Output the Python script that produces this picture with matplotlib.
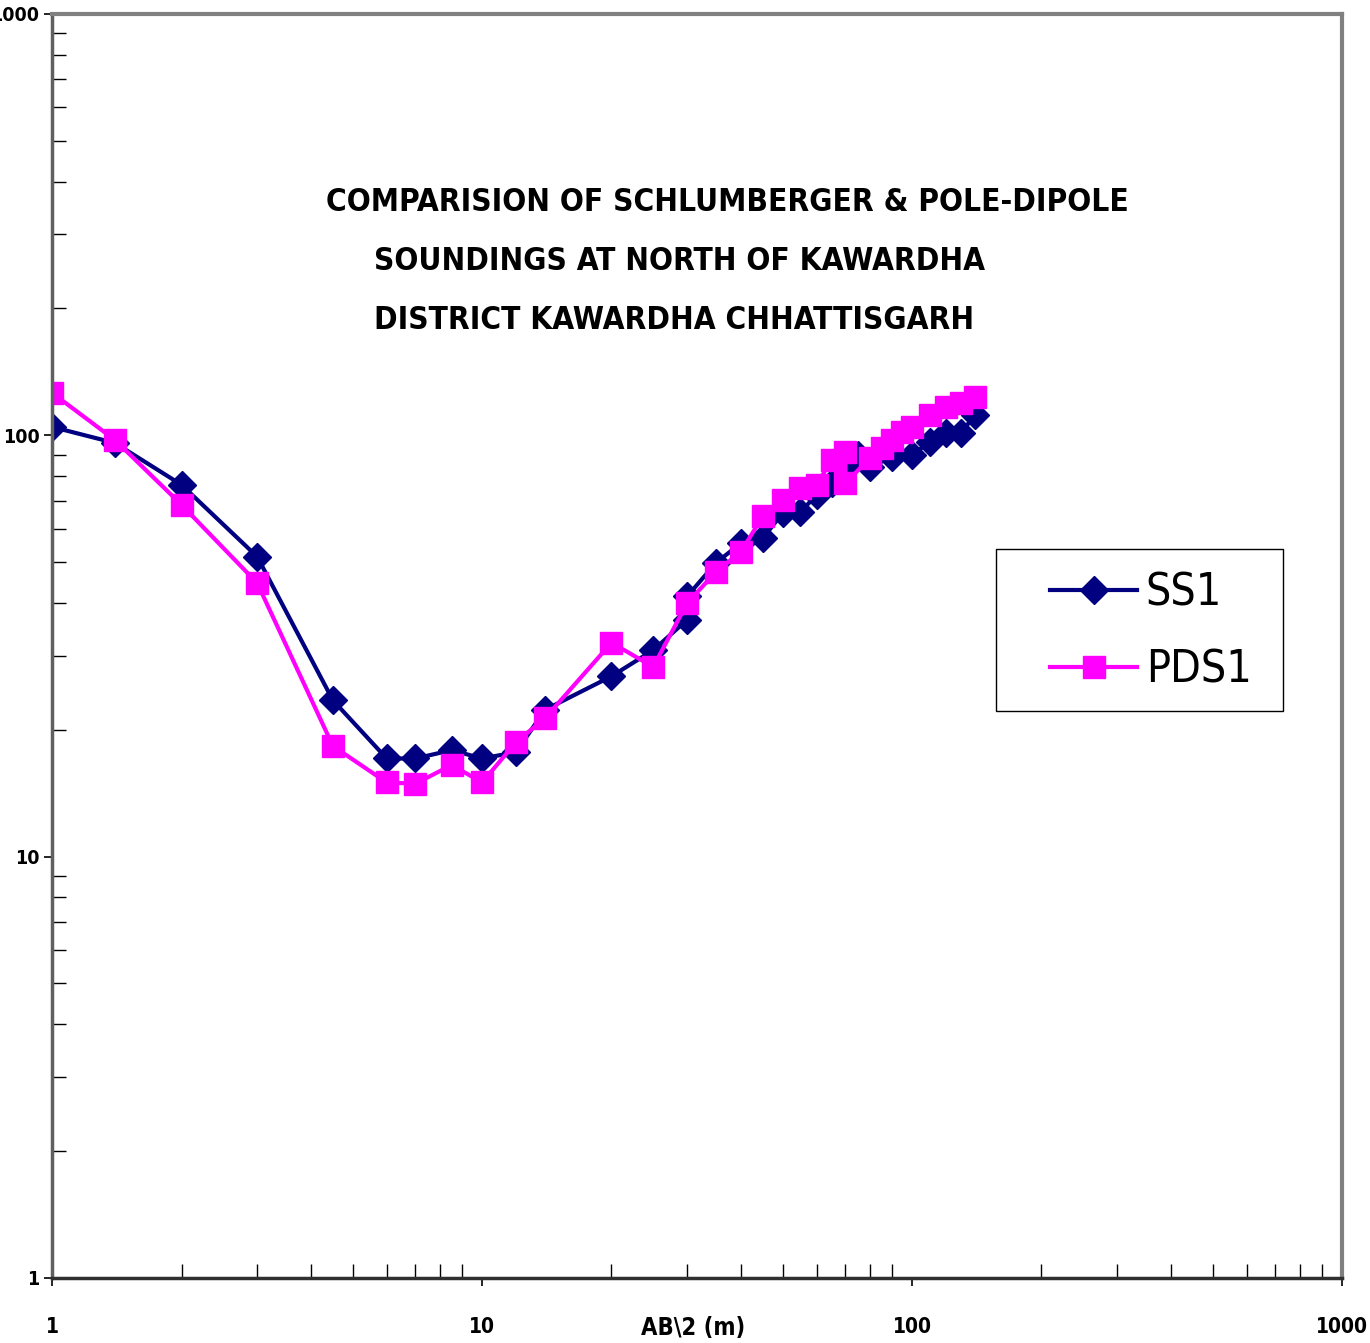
import numpy as np
from matplotlib import pyplot as plt
from matplotlib.patches import Rectangle

# AB/2 spacing (m) and apparent resistivity
ss1_x = [1, 1.4, 2, 3, 4.5, 6, 7, 8.5, 10, 12, 14, 20, 25, 30, 30, 35, 40, 45,
         50, 55, 60, 65, 70, 75, 80, 90, 100, 110, 120, 130, 140]
ss1_y = [104.7, 95.9, 76.3, 51.5, 23.5, 17.1, 17.1, 17.9, 17.1, 17.7, 22.3, 26.8,
         30.9, 36.5, 41.5, 49.8, 55.5, 57.0, 65.4, 65.8, 72.2, 77.1, 83.7, 89.8,
         84.2, 88.9, 89.8, 96.5, 101.3, 101.3, 111.7]

pds1_x = [1, 1.4, 2, 3, 4.5, 6, 7, 8.5, 10, 12, 14, 20, 25, 30, 35, 40, 45, 50,
          55, 60, 65, 70, 70, 80, 85, 90, 95, 100, 110, 120, 130, 140]
pds1_y = [126.1, 97.5, 68.4, 44.6, 18.3, 15.0, 14.9, 16.5, 15.0, 18.7, 21.3, 32.2,
          28.2, 40.0, 47.4, 52.9, 64.4, 70.3, 75.0, 76.3, 87.4, 91.3, 77.1, 88.4,
          93.3, 97.5, 101.9, 104.7, 111.8, 116.8, 119.3, 123.4]

title_lines = ["COMPARISION OF SCHLUMBERGER & POLE-DIPOLE",
               "SOUNDINGS AT NORTH OF KAWARDHA",
               "DISTRICT KAWARDHA CHHATTISGARH"]

plt.rcParams['font.family'] = ['DejaVu Sans']
plt.rcParams['font.stretch'] = 'condensed'

fig = plt.figure(figsize=(13.7, 13.43), dpi=100)
ax = fig.add_axes([0.038, 0.0484, 0.9416, 0.9412])

ax.plot(ss1_x, ss1_y, color='#000080', lw=3, marker='D', ms=14, label='SS1')
ax.plot(pds1_x, pds1_y, color='#FF00FF', lw=3, marker='s', ms=16, label='PDS1')

ax.set_xscale('log')
ax.set_yscale('log')
ax.set_xlim(1, 1000)
ax.set_ylim(1, 1000)

ax.set_xticks([1, 10, 100, 1000])
ax.set_xticklabels(['1', '10', '100', '1000'])
ax.set_yticks([1, 10, 100, 1000])
ax.set_yticklabels(['1', '10', '100', '1000'])
ax.tick_params(which='major', direction='out', length=6, width=1.2, labelsize=15, pad=22)
ax.tick_params(axis='y', which='major', pad=3, labelsize=14)
ax.tick_params(which='minor', direction='in', length=10, width=1)
for lab in ax.get_xticklabels() + ax.get_yticklabels():
    lab.set_fontweight('bold')

for side in ['top', 'right']:
    ax.spines[side].set_color('#808080')
    ax.spines[side].set_linewidth(3)
ax.spines['left'].set_color('#606060')
ax.spines['left'].set_linewidth(2.5)
ax.spines['bottom'].set_color('#303030')
ax.spines['bottom'].set_linewidth(2.5)

ax.set_xlabel('AB\\2 (m)', fontsize=17, fontweight='bold', va='center')
ax.xaxis.set_label_coords(0.497, -0.0396)

fig.text(0.531, 0.849, title_lines[0], fontsize=22.7, fontweight='bold', ha='center', va='center')
fig.text(0.273, 0.805, title_lines[1], fontsize=22.7, fontweight='bold', ha='left', va='center')
fig.text(0.273, 0.761, title_lines[2], fontsize=22.7, fontweight='bold', ha='left', va='center')

# legend box drawn separately
fig.patches.append(Rectangle((996 / 1370, 1 - 711 / 1343), 287 / 1370, 162 / 1343,
                             transform=fig.transFigure, fill=False, edgecolor='black',
                             linewidth=1))
leg = ax.legend(loc='center left', bbox_to_anchor=(1028 / 1370, 1 - 631.5 / 1343),
                bbox_transform=fig.transFigure, fontsize=32, frameon=False,
                handlelength=1.95, borderpad=0, labelspacing=0.75, handletextpad=0.2)

fig.savefig('out.png', dpi=100)
